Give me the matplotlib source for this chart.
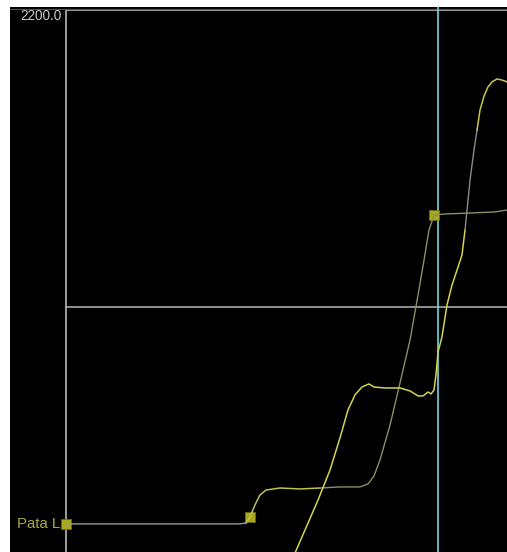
import numpy as np
import matplotlib.pyplot as plt

# curve "Pata L" (the keyed channel)
pata_frames = [0, 14.18, 14.67, 15.0, 15.40, 15.81, 16.30, 17.44, 19.07, 20.70,
               22.33, 23.96, 24.61, 25.10, 25.59, 26.41, 27.22, 28.04, 28.69,
               29.18, 29.58, 30.0, 30.89, 32.93, 34.96, 35.94]
pata_values = [-1607, -1607, -1600, -1555, -1467, -1393, -1356, -1341, -1348, -1341,
               -1333, -1333, -1311, -1252, -1133, -874, -563, -244, 89,
               348, 570, 681, 689, 696, 704, 718]

# second curve (reference motion)
ref_frames = [18.42, 19.48, 20.54, 21.52, 22.33, 22.98, 23.55, 24.12, 24.69, 25.10,
              26.00, 27.22, 28.04, 28.69, 29.10, 29.50, 29.75, 29.99, 30.15, 30.32,
              30.64, 31.05, 31.46, 31.87, 32.27, 32.52, 32.93, 33.25, 33.50, 33.74,
              34.07, 34.39, 34.72, 35.13, 35.53, 35.94]
ref_values = [-1874, -1652, -1430, -1207, -970, -763, -652, -593, -570, -593,
              -600, -600, -622, -659, -659, -630, -644, -615, -504, -333,
              -222, 15, 163, 274, 385, 570, 941, 1163, 1311, 1459,
              1563, 1630, 1667, 1689, 1681, 1667]

key_frames = [0, 15, 30]
key_values = [-1607, -1555, 681]

top_value = 2200.0
current_frame = 30.32
channel_name = "Pata L"

fig = plt.figure(figsize=(5.07, 5.52), dpi=100, facecolor="white")
ax = fig.add_axes([10 / 507, 0, 497 / 507, 545 / 552])
ax.set_facecolor("black")
ax.set_xlim(-4.56, 35.94)
ax.set_ylim(-1815, 2222)
ax.set_xticks([])
ax.set_yticks([])
for s in ax.spines.values():
    s.set_visible(False)

# frame 0 / value 0 guides and the top border
ax.plot([0, 0], [-1815, top_value], color="#b8b8b8", lw=1.2, zorder=1)
ax.plot([0, 40], [0, 0], color="#a8a8a8", lw=1.2, zorder=1)
ax.plot([0, 40], [top_value, top_value], color="#9a9a9a", lw=1.5, zorder=1)
ax.axhline(2222 - 15, color="#505050", lw=0.8, zorder=1)

# time cursor
ax.axvline(current_frame, color="#70d8d8", lw=1.2, zorder=2)

pf = np.array(pata_frames)
pv = np.array(pata_values)
rf = np.array(ref_frames)
rv = np.array(ref_values)

# Pata L: grey hold, yellowish ease-out, olive plateau and rise
hold = pf <= 14.67
ax.plot(pf[hold], pv[hold], color="#9a9a90", lw=1.0, zorder=3)
ease = (pf >= 14.67) & (pf <= 20.70)
ax.plot(pf[ease], pv[ease], color="#c0c050", lw=1.1, zorder=3)
rest = pf >= 20.70
ax.plot(pf[rest], pv[rest], color="#8e8e62", lw=1.0, zorder=3)

# reference curve: yellow with a grey stretch on the steep part
lo = rf <= 32.52
ax.plot(rf[lo], rv[lo], color="#d4d44c", lw=1.1, zorder=3)
mid = (rf >= 32.52) & (rf <= 33.50)
ax.plot(rf[mid], rv[mid], color="#8c8c84", lw=1.0, zorder=3)
hi = rf >= 33.50
ax.plot(rf[hi], rv[hi], color="#c8c848", lw=1.1, zorder=3)

# keyframes
ax.plot(key_frames, key_values, linestyle="none", marker="s", markersize=6.5,
        markerfacecolor="#a8a81c", markeredgecolor="#6c6c10", markeredgewidth=0.6,
        zorder=2.5)

ax.text(-0.35, top_value + 5, "%.1f" % top_value, color="#c8c8c8",
        fontsize=9.8, family="Liberation Sans", ha="right", va="top")
ax.text(-0.45, key_values[0], channel_name, color="#a8a844",
        fontsize=10.8, family="Liberation Sans", ha="right", va="center")

fig.savefig("out.png", dpi=100, facecolor="white")
